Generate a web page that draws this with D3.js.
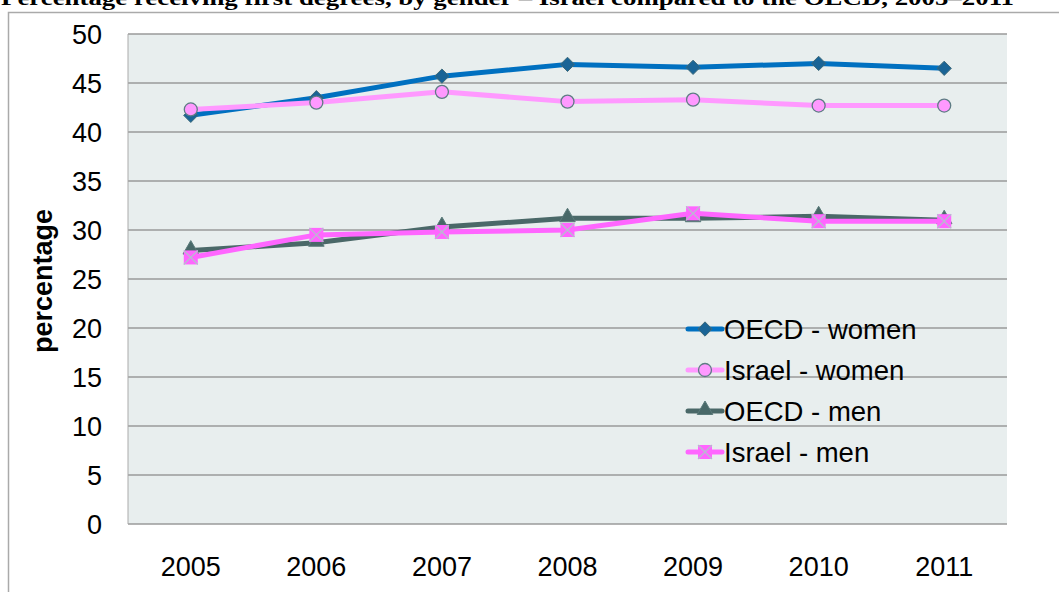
<!doctype html>
<html>
<head>
<meta charset="utf-8">
<script src="https://cdn.jsdelivr.net/npm/d3@7"></script>
<style>
  body { margin: 0; background: #fff; }
  svg { display: block; }
  .tick text { font-family: Arial, 'Liberation Sans', sans-serif; font-size: 27px; fill: #000; }
</style>
</head>
<body>
<svg id="chart" width="1059" height="592"></svg>
<script>
const years = ["2005", "2006", "2007", "2008", "2009", "2010", "2011"]
const oecdWomen   = [41.7, 43.5, 45.7, 46.9, 46.6, 47.0, 46.5]
const israelWomen = [42.3, 43.0, 44.1, 43.1, 43.3, 42.7, 42.7]
const oecdMen     = [27.9, 28.7, 30.3, 31.2, 31.2, 31.4, 31.0]
const israelMen   = [27.2, 29.5, 29.8, 30.0, 31.7, 30.9, 30.9]
const yTicks = [0, 5, 10, 15, 20, 25, 30, 35, 40, 45, 50]

const series = [
  { name: "OECD - women",   values: oecdWomen,   line: "#0070C0", marker: "diamond" },
  { name: "Israel - women", values: israelWomen, line: "#FF99FF", marker: "circle" },
  { name: "OECD - men",     values: oecdMen,     line: "#4A6868", marker: "triangle" },
  { name: "Israel - men",   values: israelMen,   line: "#FF66FF", marker: "square" }
]

const svg = d3.select("#chart")
const plot = { left: 128, right: 1007, top: 34, bottom: 524 }

// outer frame (cut by the window on right/bottom)
svg.append("rect")
  .attr("x", 8.5).attr("y", 12.5)
  .attr("width", 1100).attr("height", 700)
  .attr("fill", "none").attr("stroke", "#aaa").attr("stroke-width", 1.5)

// title, partly cut off at the top
svg.append("text")
  .attr("x", 1).attr("y", 5)
  .attr("font-family", "'Times New Roman', 'Liberation Serif', serif")
  .attr("font-weight", "bold")
  .attr("font-size", 21)
  .attr("textLength", 1013)
  .attr("lengthAdjust", "spacingAndGlyphs")
  .text("Percentage receiving first degrees, by gender \u2013 Israel compared to the OECD, 2005\u20132011")

const x = d3.scaleBand().domain(years).range([plot.left, plot.right]).padding(0)
const y = d3.scaleLinear().domain([0, 50]).range([plot.bottom, plot.top])
const cx = d => x(d) + x.bandwidth() / 2

svg.append("rect")
  .attr("x", plot.left).attr("y", plot.top)
  .attr("width", plot.right - plot.left).attr("height", plot.bottom - plot.top)
  .attr("fill", "#E8EEEE")

// gridlines
svg.append("g").selectAll("line")
  .data(yTicks)
  .enter().append("line")
    .attr("x1", plot.left).attr("x2", plot.right)
    .attr("y1", d => y(d)).attr("y2", d => y(d))
    .attr("stroke", "#9a9a9a")
    .attr("stroke-width", 1.5)

// left axis line
svg.append("line")
  .attr("x1", plot.left).attr("x2", plot.left)
  .attr("y1", plot.top).attr("y2", plot.bottom)
  .attr("stroke", "#aaa").attr("stroke-width", 1)

const yAxis = d3.axisLeft(y).tickValues(yTicks).tickSize(0).tickPadding(26)
svg.append("g")
  .attr("transform", "translate(" + plot.left + ",0)")
  .call(yAxis)
  .call(g => g.select(".domain").remove())
  .selectAll("text").attr("dy", "0.36em")

const xAxis = d3.axisBottom(x).tickSize(0).tickPadding(33)
svg.append("g")
  .attr("transform", "translate(0," + plot.bottom + ")")
  .call(xAxis)
  .call(g => g.select(".domain").remove())

svg.append("text")
  .attr("transform", "translate(52,281) rotate(-90)")
  .attr("text-anchor", "middle")
  .attr("font-family", "Arial, 'Liberation Sans', sans-serif")
  .attr("font-weight", "bold")
  .attr("font-size", 27)
  .text("percentage")

function drawMarker(g, type, px, py) {
  if (type === "diamond") {
    g.append("path")
      .attr("d", d3.symbol().type(d3.symbolDiamond2).size(130)())
      .attr("transform", "translate(" + px + "," + py + ") ")
      .attr("fill", "#1A6496").attr("stroke", "#3E6A7A").attr("stroke-width", 1)
  } else if (type === "circle") {
    g.append("circle")
      .attr("cx", px).attr("cy", py).attr("r", 6.5)
      .attr("fill", "#FF99FF").attr("stroke", "#5E7C84").attr("stroke-width", 1.3)
  } else if (type === "triangle") {
    g.append("path")
      .attr("d", d3.symbol().type(d3.symbolTriangle).size(105)())
      .attr("transform", "translate(" + px + "," + (py - 1) + ")")
      .attr("fill", "#486868").attr("stroke", "#5A7A7A").attr("stroke-width", 1)
  } else {
    const s = 7
    g.append("rect")
      .attr("x", px - s).attr("y", py - s).attr("width", 2 * s).attr("height", 2 * s)
      .attr("fill", "#FF66FF")
    g.append("path")
      .attr("d", "M" + (px - s) + "," + (py - s) + "L" + (px + s) + "," + (py + s) +
                 "M" + (px + s) + "," + (py - s) + "L" + (px - s) + "," + (py + s))
      .attr("stroke", "#B8BCD0").attr("stroke-width", 1.3)
  }
}

const line = d3.line().x((d, i) => cx(years[i])).y(d => y(d))

series.forEach(s => {
  const g = svg.append("g")
  g.append("path")
    .attr("d", line(s.values))
    .attr("fill", "none")
    .attr("stroke", s.line)
    .attr("stroke-width", 5)
    .attr("stroke-linejoin", "round")
  s.values.forEach((v, i) => drawMarker(g, s.marker, cx(years[i]), y(v)))
})

// legend
const legend = svg.append("g")
series.forEach((s, i) => {
  const ly = 329 + i * 41
  const g = legend.append("g")
  g.append("line")
    .attr("x1", 688).attr("x2", 722).attr("y1", ly).attr("y2", ly)
    .attr("stroke", s.line).attr("stroke-width", 5).attr("stroke-linecap", "round")
  drawMarker(g, s.marker, 705, ly)
  g.append("text")
    .attr("x", 724).attr("y", ly).attr("dy", "0.36em")
    .attr("font-family", "Arial, 'Liberation Sans', sans-serif")
    .attr("font-size", 27.5)
    .text(s.name)
})
</script>
</body>
</html>
